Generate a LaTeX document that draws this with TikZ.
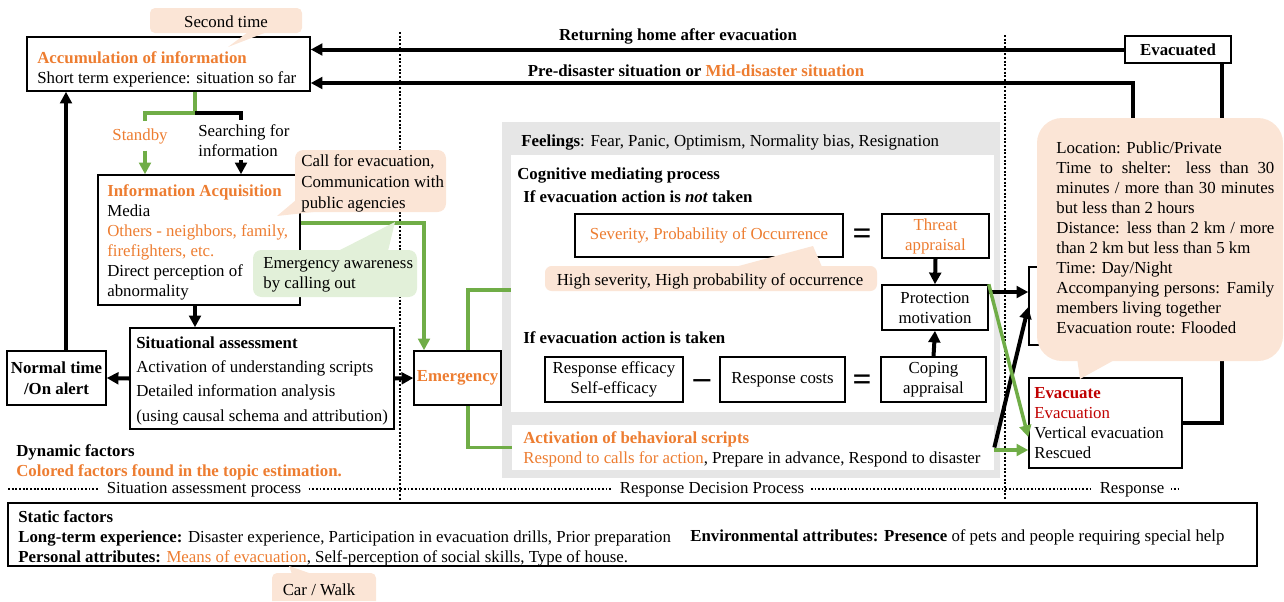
\documentclass[tikz,border=0pt]{standalone}
\usepackage{fontspec}
\setmainfont{Liberation Serif}
\usetikzlibrary{arrows.meta,fit}
\definecolor{orange}{HTML}{ED7D31}
\definecolor{green}{HTML}{70AD47}
\definecolor{red}{HTML}{C00000}
\definecolor{peach}{HTML}{FBE5D6}
\definecolor{mint}{HTML}{E2F0D9}
\definecolor{panel}{HTML}{E6E6E6}
\newcommand\jline[1]{\makebox[130.8pt][s]{#1}}

\begin{document}
\fontsize{10.1}{12}\selectfont
\begin{tikzpicture}[x=0.6pt,y=-0.6pt,
    box/.style={draw,line width=0.9pt,inner sep=0pt},
    txt/.style={inner sep=0pt,anchor=north west,align=left},
    mid/.style={inner sep=0pt,align=center},
    arr/.style={line width=2.4pt,-{Triangle[length=7pt,width=7pt]}},
    thk/.style={line width=2.4pt},
    garr/.style={green,line width=2.1pt,-{Triangle[length=7pt,width=7pt]}},
    gline/.style={green,line width=2.1pt},
    sep/.style={line width=1.2pt,dash pattern=on 1.1pt off 1.1pt},
    lab/.style={fill=white,inner xsep=4pt,inner ysep=1pt,anchor=base},
    sign/.style={inner sep=0pt,font=\fontsize{20}{20}\selectfont\bfseries}]
  \useasboundingbox (0,0) rectangle (1284,601);

  % panels of the decision process
  \fill[panel] (502,122) rectangle (1000,478);
  \node[fill=white,inner sep=0pt,fit={(511,155) (994,412)}] (cog) {};
  \node[fill=white,inner sep=0pt,fit={(512,425) (994,470)}] (act) {};

  % stage separators
  \draw[sep] (400,32) -- (400,500);
  \draw[sep] (1005,35) -- (1005,500);
  \draw[sep] (8,489) -- (1178,489);

  % boxes
  \node[box,fit={(27,37) (310,91)}]     (acc)    {};
  \node[box,fit={(98,175) (300,305)}]   (info)   {};
  \node[box,fit={(130,328) (394,429)}]  (sit)    {};
  \node[box,fit={(7,351) (106,405)}]    (normal) {};
  \node[box,fit={(414,351) (501,405)}]  (emerg)  {};
  \node[box,fit={(575,214) (843,257)}]  (sev)    {};
  \node[box,fit={(882,214) (989,258)}]  (threat) {};
  \node[box,fit={(882,285) (988,330)}]  (prot)   {};
  \node[box,fit={(545,357) (683,402)}]  (reff)   {};
  \node[box,fit={(720,357) (845,402)}]  (rcost)  {};
  \node[box,fit={(881,357) (986,402)}]  (coping) {};
  \node[box,fit={(1029,267) (1140,345)}] (hid)   {};
  \node[box,fit={(1029,378) (1182,468)}] (evacb) {};
  \node[box,fit={(1125,36) (1231,63)}]  (evacd)  {};
  \node[box,fit={(8,503) (1257,566)}]   (static) {};

  % texts
  \node[txt] (acct) at (37,51) {\textcolor{orange}{\textbf{Accumulation of information}}\\Short term experience: situation so far};
  \node[mid,inner sep=4pt,text=orange] (standby) at (140,136) {Standby};
  \node[txt] (search) at (198,124) {Searching for\\information};
  \node[txt] (infot) at (107,184) {\textcolor{orange}{\textbf{Information Acquisition}}\\Media\\\textcolor{orange}{Others - neighbors, family,}\\\textcolor{orange}{firefighters, etc.}\\Direct perception of\\abnormality};
  \node[txt,font=\fontsize{10.1}{14.6}\selectfont] (sitt) at (136,336) {\textbf{Situational assessment}\\Activation of understanding scripts\\Detailed information analysis\\(using causal schema and attribution)};
  \node[mid,font=\fontsize{10.1}{12.6}\selectfont\bfseries] (normalt) at (normal.center) {Normal time\\/On alert};
  \node[mid,text=orange,font=\bfseries] (emergt) at (emerg.center) {Emergency};
  \node[txt,font=\bfseries] (dyn) at (16,444) {Dynamic factors\\\textcolor{orange}{Colored factors found in the topic estimation.}};

  \node[anchor=base,inner sep=0pt,font=\bfseries] (ret) at (678,40) {Returning home after evacuation};
  \node[anchor=base,inner sep=0pt,font=\bfseries] (pre) at (696,76) {Pre-disaster situation or \textcolor{orange}{Mid-disaster situation}};
  \node[mid,font=\bfseries] (evacdt) at (evacd.center) {Evacuated};

  \node[txt] (feel) at (521,134) {\textbf{Feelings}: Fear, Panic, Optimism, Normality bias, Resignation};
  \node[txt,font=\bfseries] (cogt) at (517,167) {Cognitive mediating process};
  \node[txt,font=\bfseries] (ifnot) at (523,190) {If evacuation action is \textit{not} taken};
  \node[mid,text=orange] (sevt) at (sev.center) {Severity, Probability of Occurrence};
  \node[mid,text=orange] (threatt) at (threat.center) {Threat\\appraisal};
  \node[mid] (prott) at (prot.center) {Protection\\motivation};
  \node[txt,font=\bfseries] (iftaken) at (523,331) {If evacuation action is taken};
  \node[mid] (refft) at (reff.center) {Response efficacy\\Self-efficacy};
  \node[mid] (rcostt) at (rcost.center) {Response costs};
  \node[mid] (copingt) at (coping.center) {Coping\\appraisal};
  \node[sign] (eqa) at (862,237) {=};
  \node[sign] (eqb) at (862,383) {=};
  \node[sign] (minus) at (702,384) {--};
  \node[txt] (actt) at (523,431) {\textcolor{orange}{\textbf{Activation of behavioral scripts}}\\\textcolor{orange}{Respond to calls for action}, Prepare in advance, Respond to disaster};

  \node[txt] (evact) at (1034,387) {\textcolor{red}{\textbf{Evacuate}}\\\textcolor{red}{Evacuation}\\Vertical evacuation\\Rescued};

  \node[txt] (statt) at (18,510) {\textbf{Static factors}\\\textbf{Long-term experience:} Disaster experience, Participation in evacuation drills, Prior preparation\\\textbf{Personal attributes:} \textcolor{orange}{Means of evacuation}, Self-perception of social skills, Type of house.};
  \node[anchor=base west,inner sep=0pt] (env) at (690,541.5) {\textbf{Environmental attributes: Presence} of pets and people requiring special help};

  \node[lab] (sap) at (204,493) {Situation assessment process};
  \node[lab] (rdp) at (712,493) {Response Decision Process};
  \node[lab] (rsp) at (1132,493) {Response};

  % connectors
  \draw[arr]   (evacd.west) -- (evacd.west -| acc.east);
  \draw[arr]   (hid.north -| 1133,0) |- (acc.east |- 0,83);
  \draw[thk]   (evacd.south -| 1222,0) |- (evacb.east);
  \draw[arr]   (normal.north -| 66,0) -- (acc.south -| 66,0);
  \draw[gline] (acc.south -| 195,0) -- (195,113) -| (standby.north -| 145,0);
  \draw[thk,shorten >=2.5pt] (195,113) -| (search.north -| 241,0);
  \draw[garr]  (standby.south -| 145,0) -- (info.north -| 145,0);
  \draw[arr,shorten <=2pt] (search.south -| 241,0) -- (info.north -| 241,0);
  \draw[arr]   (info.south -| 195,0) -- (sit.north -| 195,0);
  \draw[arr]   (sit.west) -- (normal.east);
  \draw[arr]   (sit.east) -- (emerg.west);
  \draw[garr]  (info.east |- 0,223) -| (emerg.north -| 424,0);
  \draw[gline] (emerg.north -| 468,0) |- (cog.west |- 0,290);
  \draw[gline] (emerg.south -| 468,0) |- (act.west);
  \draw[arr]   (threat.south) -- (prot.north);
  \draw[arr]   (coping.north) -- (prot.south);
  \draw[arr]   (prot.east |- 0,292) -- (hid.west |- 0,292);
  \draw[arr]   (act.east) -- (hid.west |- 0,307);
  \draw[garr]  (prot.north east) -- (evacb.west |- 0,437);
  \draw[garr]  (act.east |- 0,450) -- (evacb.west |- 0,450);

  % callouts
  \fill[peach,rounded corners=3pt] (150,8) rectangle (302,33);
  \fill[peach] (248,32) -- (228,47) -- (267,32) -- cycle;
  \node[anchor=base,inner sep=0pt] (second) at (226,27) {Second time};

  \fill[peach,rounded corners=5pt] (295,150) rectangle (446,212);
  \fill[peach] (296,200) -- (277,216) -- (322,211) -- cycle;
  \node[txt,font=\fontsize{10.1}{12.6}\selectfont] (callt) at (301,154) {Call for evacuation,\\Communication with\\public agencies};

  \fill[mint,rounded corners=5pt] (253,250) rectangle (417,297);
  \fill[mint] (338,251) -- (395,222) -- (388,251) -- cycle;
  \node[txt] (awaret) at (263,257) {Emergency awareness\\by calling out};

  \fill[peach,rounded corners=4pt] (545,266) rectangle (877,291);
  \fill[peach] (735,267) -- (813,246) -- (822,267) -- cycle;
  \node[anchor=base,inner sep=0pt] (hight) at (710,285) {High severity, High probability of occurrence};

  \fill[peach,rounded corners=15pt] (1037,118) rectangle (1283,361);
  \fill[peach] (1077,358) -- (1080,379) -- (1118,358) -- cycle;
  \node[txt] (condt) at (1056,141) {Location: Public/Private\\\jline{Time to shelter: less than 30}\\\jline{minutes / more than 30 minutes}\\but less than 2 hours\\\jline{Distance: less than 2 km / more}\\than 2 km but less than 5 km\\Time: Day/Night\\\jline{Accompanying persons: Family}\\members living together\\Evacuation route: Flooded};

  \fill[peach] (272,601) [rounded corners=3pt] |- (376,573) [sharp corners] -- (376,601) -- cycle;
  \fill[peach] (292,574) -- (289,566) -- (312,574) -- cycle;
  \node[anchor=base,inner sep=0pt] (carw) at (319,595) {Car / Walk};
\end{tikzpicture}
\end{document}
